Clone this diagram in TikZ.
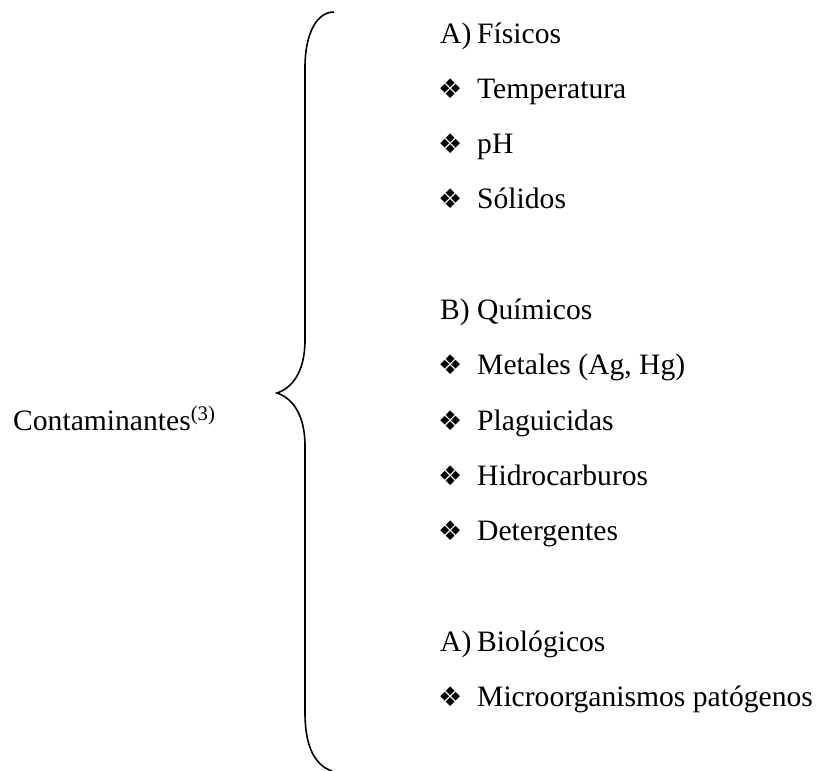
\documentclass[tikz,border=0pt]{standalone}
\usepackage{fontspec}
\setmainfont{Liberation Serif}
\newfontfamily\symfont{DejaVu Sans}
\usetikzlibrary{positioning}
\tikzset{item/.style={anchor=base west, inner sep=0pt, font=\fontsize{29.6}{34}\selectfont},
  bul/.style={anchor=base west, inner sep=0pt, font=\symfont\fontsize{27}{30}\selectfont}}

\begin{document}
\begin{tikzpicture}[x=1pt,y=-1pt]
\useasboundingbox (0,0) rectangle (833,771);
\draw[line width=1.6pt] (334,12) .. controls (316,12) and (305,35) .. (305,67) -- (305,340)
  .. controls (305,372) and (292,388) .. (277,393)
  .. controls (292,398) and (305,414) .. (305,446) -- (305,713)
  .. controls (305,745) and (314,765) .. (332,771);
\node[item] (cont) at (13,430) {Contaminantes\textsuperscript{(3)}};
% fisicos
\node[item] (lfis) at (440,43) {A)};
\node[item] (fis) at (477,43) {Físicos};
\node[bul] (b1) at (438,98.3) {❖};
\node[item] (temp) at (477,98.3) {Temperatura};
\node[bul] (b2) at (438,153.6) {❖};
\node[item] (ph) at (477,153.6) {pH};
\node[bul] (b3) at (438,208.9) {❖};
\node[item] (sol) at (477,208.9) {Sólidos};
% quimicos
\node[item] (lqui) at (440,319.5) {B)};
\node[item] (qui) at (477,319.5) {Químicos};
\node[bul] (b4) at (438,374.8) {❖};
\node[item] (met) at (477,374.8) {Metales (Ag, Hg)};
\node[bul] (b5) at (438,430.1) {❖};
\node[item] (plag) at (477,430.1) {Plaguicidas};
\node[bul] (b6) at (438,485.4) {❖};
\node[item] (hid) at (477,485.4) {Hidrocarburos};
\node[bul] (b7) at (438,540.7) {❖};
\node[item] (det) at (477,540.7) {Detergentes};
% biologicos
\node[item] (lbio) at (440,651.3) {A)};
\node[item] (bio) at (477,651.3) {Biológicos};
\node[bul] (b8) at (438,706.6) {❖};
\node[item] (micro) at (477,706.6) {Microorganismos patógenos};
\end{tikzpicture}
\end{document}
